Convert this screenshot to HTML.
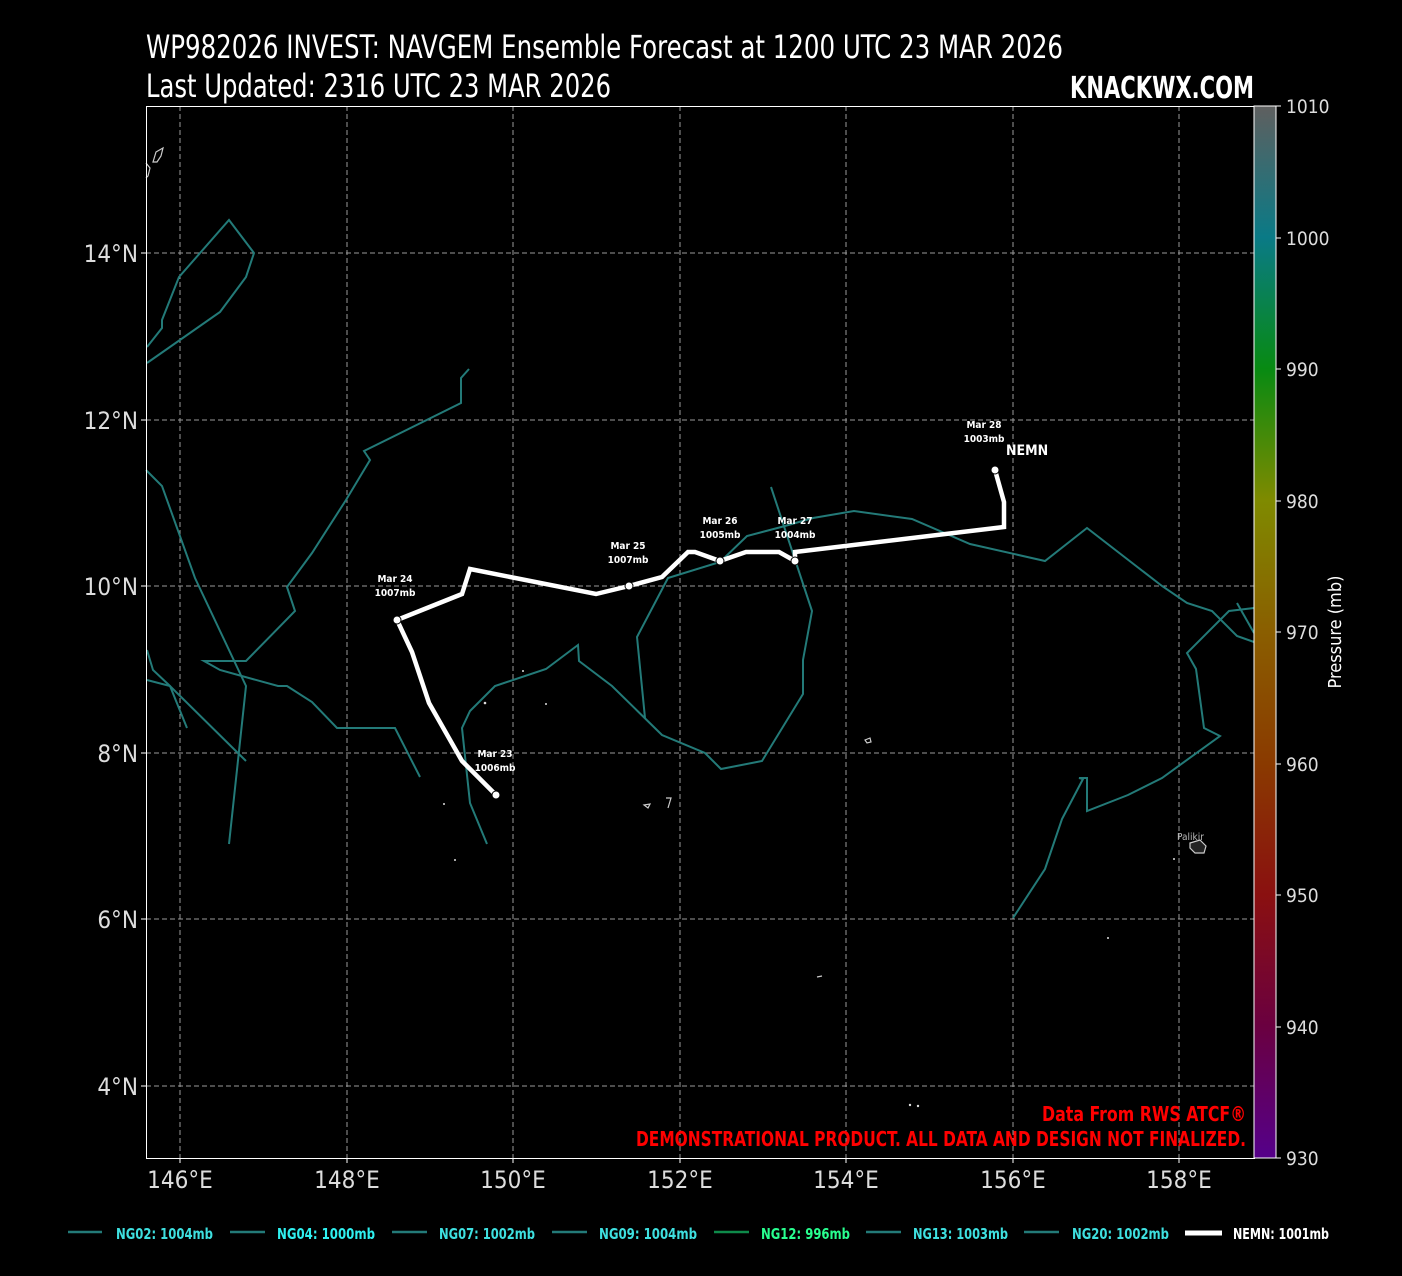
<!DOCTYPE html>
<html><head><meta charset="utf-8"><style>
html,body{margin:0;padding:0;background:#000;}
svg{display:block;}
text{font-family:"DejaVu Sans Condensed","Liberation Sans Narrow","Liberation Sans",sans-serif;}
</style></head><body>
<svg width="1402" height="1276" viewBox="0 0 1402 1276" xmlns="http://www.w3.org/2000/svg">
<defs>
<linearGradient id="cb" x1="0" y1="0" x2="0" y2="1">
<stop offset="0" stop-color="#5f5f5f"/>
<stop offset="0.125" stop-color="#0a7a86"/>
<stop offset="0.25" stop-color="#088a12"/>
<stop offset="0.375" stop-color="#7f8a00"/>
<stop offset="0.5" stop-color="#8a5e00"/>
<stop offset="0.625" stop-color="#8a3a00"/>
<stop offset="0.75" stop-color="#8a1010"/>
<stop offset="0.875" stop-color="#6a0040"/>
<stop offset="1" stop-color="#55008a"/>
</linearGradient>
</defs>
<rect width="1402" height="1276" fill="#000"/>
<!-- titles -->
<text x="146" y="58" font-size="32" fill="#fff" textLength="917" lengthAdjust="spacingAndGlyphs">WP982026 INVEST: NAVGEM Ensemble Forecast at 1200 UTC 23 MAR 2026</text>
<text x="146" y="97" font-size="32" fill="#fff" textLength="465" lengthAdjust="spacingAndGlyphs">Last Updated: 2316 UTC 23 MAR 2026</text>
<text x="1070" y="98" font-size="30" font-weight="bold" fill="#fff" textLength="184" lengthAdjust="spacingAndGlyphs">KNACKWX.COM</text>
<!-- grid -->
<g stroke="#9a9a9a" stroke-width="1" stroke-dasharray="5,3">
<line x1="180" y1="106" x2="180" y2="1158"/><line x1="347" y1="106" x2="347" y2="1158"/>
<line x1="513" y1="106" x2="513" y2="1158"/><line x1="680" y1="106" x2="680" y2="1158"/>
<line x1="846" y1="106" x2="846" y2="1158"/><line x1="1013" y1="106" x2="1013" y2="1158"/>
<line x1="1179" y1="106" x2="1179" y2="1158"/>
<line x1="146" y1="253" x2="1254" y2="253"/><line x1="146" y1="420" x2="1254" y2="420"/>
<line x1="146" y1="586" x2="1254" y2="586"/><line x1="146" y1="753" x2="1254" y2="753"/>
<line x1="146" y1="919" x2="1254" y2="919"/><line x1="146" y1="1086" x2="1254" y2="1086"/>
</g>
<!-- islands -->
<g fill="none" stroke="#ccc" stroke-width="1.2">
<path d="M153,162 L156,152 L163,148 L161,156 L157,162 Z"/>
<path d="M146,163 L150,168 L148,176 L146,178"/>
<path d="M865,740 L870,738 L871,742 L867,743 Z"/>
<path d="M1190,843 L1200,840 L1206,846 L1204,853 L1195,853 L1190,848 Z" fill="#222"/>
<path d="M644,805 L650,804 L648,808 Z"/><path d="M666,798 L671,798 L668,808"/>
<path d="M817,977 L822,976"/>
</g>
<g fill="#ddd">
<circle cx="485" cy="703" r="1.3"/><circle cx="546" cy="704" r="1"/><circle cx="523" cy="671" r="1"/>
<circle cx="444" cy="804" r="1"/><circle cx="455" cy="860" r="1"/><circle cx="1174" cy="859" r="1"/>
<circle cx="1108" cy="938" r="1"/><circle cx="910" cy="1105" r="1.2"/><circle cx="918" cy="1106" r="1.2"/>
</g>
<text x="1177" y="840" font-size="10" fill="#bbb">Palikir</text>
<!-- ensemble tracks -->
<g fill="none" stroke="#237a78" stroke-width="2" stroke-linejoin="miter">
<polyline points="147,347 162,328 162,320 179,277 229,220 254,253 246,277 220,312 147,363"/>
<polyline points="469,369 461,378 461,403 364,451 370,460 346,500 312,553 287,587 295,611 246,661 204,661 220,670 278,686 287,686 312,702 337,728 395,728 420,777"/>
<polyline points="146,470 162,486 195,578 246,686 229,844"/>
<polyline points="147,650 153,670 170,686 187,728"/>
<polyline points="147,680 170,686 246,761"/>
<polyline points="487,844 470,803 462,728 470,711 495,686 546,669 578,645 579,661 612,686 662,735 705,753 721,769 762,761 803,694 803,660 812,611 771,487"/>
<polyline points="645,718 637,637 668,578 720,562 747,536 785,526 813,518 854,511 912,519 970,544 1045,561 1087,528 1162,586 1187,603 1212,611 1237,636 1254,642"/>
<polyline points="1013,918 1045,869 1062,819 1083,779 1079,778 1087,778 1087,811 1128,795 1162,778 1220,736 1204,728 1196,669 1187,653 1229,611 1254,608"/>
<polyline points="1237,603 1254,633"/>
</g>
<!-- NEMN track -->
<polyline fill="none" stroke="#fff" stroke-width="4.5" stroke-linejoin="miter" points="496,795 462,761 429,703 412,652 397,620 462,594 470,569 596,594 629,586 662,577 688,552 695,552 720,561 746,552 779,552 795,561 795,552 1004,527 1004,502 995,470"/>
<g fill="#fff" stroke="#000" stroke-width="1">
<circle cx="496" cy="795" r="4"/><circle cx="397" cy="620" r="4"/><circle cx="629" cy="586" r="4"/>
<circle cx="720" cy="561" r="4"/><circle cx="795" cy="561" r="4"/><circle cx="995" cy="470" r="4"/>
</g>
<g font-size="10" font-weight="bold" fill="#fff" text-anchor="middle">
<text x="495" y="757">Mar 23</text><text x="495" y="771">1006mb</text>
<text x="395" y="582">Mar 24</text><text x="395" y="596">1007mb</text>
<text x="628" y="549">Mar 25</text><text x="628" y="563">1007mb</text>
<text x="720" y="524">Mar 26</text><text x="720" y="538">1005mb</text>
<text x="795" y="524">Mar 27</text><text x="795" y="538">1004mb</text>
<text x="984" y="428">Mar 28</text><text x="984" y="442">1003mb</text>
</g>
<text x="1006" y="455" font-size="14" font-weight="bold" fill="#fff">NEMN</text>
<!-- red text -->
<g font-size="20" font-weight="bold" fill="#ff0000" text-anchor="end">
<text x="1246" y="1121" textLength="204" lengthAdjust="spacingAndGlyphs">Data From RWS ATCF®</text>
<text x="1246" y="1146" textLength="610" lengthAdjust="spacingAndGlyphs">DEMONSTRATIONAL PRODUCT. ALL DATA AND DESIGN NOT FINALIZED.</text>
</g>
<!-- frame -->
<rect x="146.5" y="106.5" width="1108" height="1052" fill="none" stroke="#fff" stroke-width="1"/>
<!-- axis labels -->
<g font-size="24" fill="#ddd" text-anchor="end">
<text x="138" y="262">14°N</text><text x="138" y="429">12°N</text><text x="138" y="595">10°N</text>
<text x="138" y="762">8°N</text><text x="138" y="928">6°N</text><text x="138" y="1095">4°N</text>
</g>
<g stroke="#fff"><line x1="141" y1="253" x2="146" y2="253"/><line x1="141" y1="420" x2="146" y2="420"/><line x1="141" y1="586" x2="146" y2="586"/><line x1="141" y1="753" x2="146" y2="753"/><line x1="141" y1="919" x2="146" y2="919"/><line x1="141" y1="1086" x2="146" y2="1086"/>
<line x1="180" y1="1158" x2="180" y2="1163"/><line x1="347" y1="1158" x2="347" y2="1163"/><line x1="513" y1="1158" x2="513" y2="1163"/><line x1="680" y1="1158" x2="680" y2="1163"/><line x1="846" y1="1158" x2="846" y2="1163"/><line x1="1013" y1="1158" x2="1013" y2="1163"/><line x1="1179" y1="1158" x2="1179" y2="1163"/></g>
<g font-size="24" fill="#ddd" text-anchor="middle">
<text x="180" y="1188">146°E</text><text x="347" y="1188">148°E</text><text x="513" y="1188">150°E</text>
<text x="680" y="1188">152°E</text><text x="846" y="1188">154°E</text><text x="1013" y="1188">156°E</text>
<text x="1179" y="1188">158°E</text>
</g>
<!-- colorbar -->
<rect x="1254" y="106" width="22" height="1052" fill="url(#cb)" stroke="#fff" stroke-width="1"/>
<g font-size="19" fill="#ddd">
<text x="1286" y="113">1010</text><text x="1286" y="245">1000</text><text x="1286" y="376">990</text>
<text x="1286" y="508">980</text><text x="1286" y="639">970</text><text x="1286" y="771">960</text>
<text x="1286" y="902">950</text><text x="1286" y="1034">940</text><text x="1286" y="1165">930</text>
</g>
<g stroke="#fff"><line x1="1276" y1="106" x2="1281" y2="106"/><line x1="1276" y1="238" x2="1281" y2="238"/><line x1="1276" y1="369" x2="1281" y2="369"/><line x1="1276" y1="501" x2="1281" y2="501"/><line x1="1276" y1="632" x2="1281" y2="632"/><line x1="1276" y1="764" x2="1281" y2="764"/><line x1="1276" y1="895" x2="1281" y2="895"/><line x1="1276" y1="1027" x2="1281" y2="1027"/><line x1="1276" y1="1158" x2="1281" y2="1158"/></g>
<text transform="translate(1341,632) rotate(-90)" font-size="18" fill="#fff" text-anchor="middle">Pressure (mb)</text>
<!-- legend -->
<g stroke-width="2.5">
<line x1="68" y1="1232" x2="102" y2="1232" stroke="#237a78"/>
<line x1="230" y1="1232" x2="265" y2="1232" stroke="#237a78"/>
<line x1="392" y1="1232" x2="427" y2="1232" stroke="#237a78"/>
<line x1="552" y1="1232" x2="587" y2="1232" stroke="#237a78"/>
<line x1="714" y1="1232" x2="749" y2="1232" stroke="#0e8a4a"/>
<line x1="866" y1="1232" x2="901" y2="1232" stroke="#237a78"/>
<line x1="1024" y1="1232" x2="1059" y2="1232" stroke="#237a78"/>
<line x1="1185" y1="1233" x2="1222" y2="1233" stroke="#fff" stroke-width="5"/>
</g>
<g font-size="15" font-weight="bold">
<text x="116" y="1239" fill="#3ee0e0" textLength="97" lengthAdjust="spacingAndGlyphs">NG02: 1004mb</text>
<text x="277" y="1239" fill="#2ff0f0" textLength="98" lengthAdjust="spacingAndGlyphs">NG04: 1000mb</text>
<text x="439" y="1239" fill="#3ee0e0" textLength="96" lengthAdjust="spacingAndGlyphs">NG07: 1002mb</text>
<text x="599" y="1239" fill="#3ee0e0" textLength="98" lengthAdjust="spacingAndGlyphs">NG09: 1004mb</text>
<text x="761" y="1239" fill="#28ff90" textLength="89" lengthAdjust="spacingAndGlyphs">NG12: 996mb</text>
<text x="913" y="1239" fill="#3ee0e0" textLength="95" lengthAdjust="spacingAndGlyphs">NG13: 1003mb</text>
<text x="1072" y="1239" fill="#3ee0e0" textLength="97" lengthAdjust="spacingAndGlyphs">NG20: 1002mb</text>
<text x="1233" y="1239" fill="#fff" textLength="96" lengthAdjust="spacingAndGlyphs">NEMN: 1001mb</text>
</g>
</svg>
</body></html>
